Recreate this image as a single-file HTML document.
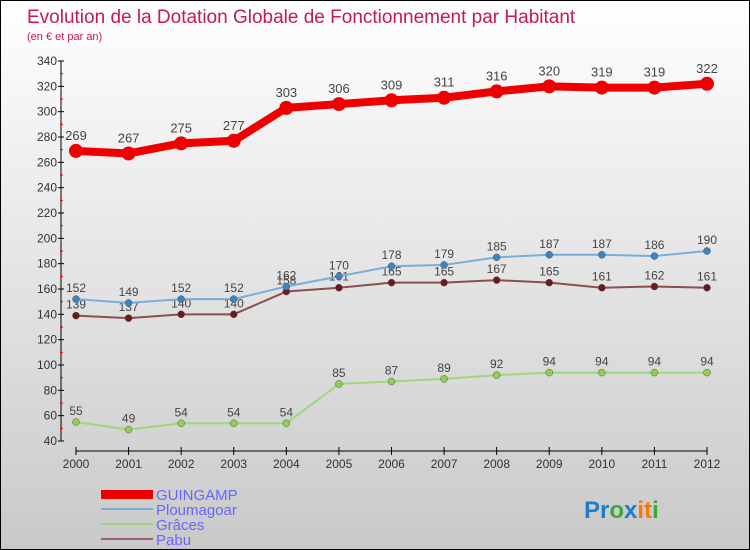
<!DOCTYPE html>
<html><head><meta charset="utf-8"><style>
body{margin:0}
#c{width:750px;height:550px;position:relative;background:linear-gradient(#ffffff,#c9c9c9);border:1px solid #000;box-sizing:border-box;overflow:hidden;font-family:"Liberation Sans",sans-serif}
</style></head><body>
<div id="c">
<svg id="s" width="750" height="550">
<text x="26" y="22" font-size="19" fill="#c8175a">Evolution de la Dotation Globale de Fonctionnement par Habitant</text>
<text x="26" y="39" font-size="11" fill="#c8175a">(en € et par an)</text>
<g id="ax"></g><g id="ser"></g>
<g>
<rect x="100" y="489" width="52" height="9" fill="#e00"/>
<text x="155" y="499" font-size="15" fill="#66f">GUINGAMP</text>
<line x1="100" y1="508" x2="152" y2="508" stroke="#7aaed8" stroke-width="2"/>
<text x="155" y="514" font-size="15" fill="#66f">Ploumagoar</text>
<line x1="100" y1="523" x2="152" y2="523" stroke="#9fd67a" stroke-width="2"/>
<text x="155" y="529" font-size="15" fill="#66f">Grâces</text>
<line x1="100" y1="538" x2="152" y2="538" stroke="#9a6464" stroke-width="2"/>
<text x="155" y="544" font-size="15" fill="#66f">Pabu</text>
</g>
<text x="583" y="517" font-size="24" font-weight="bold"><tspan fill="#1a7fd0">Pr</tspan><tspan fill="#3aa83a">o</tspan><tspan fill="#1a7fd0">x</tspan><tspan fill="#f07a10">it</tspan><tspan fill="#3aa83a">i</tspan></text>
</svg></div>
<script>
const years=[2000,2001,2002,2003,2004,2005,2006,2007,2008,2009,2010,2011,2012];
const guingamp=[269,267,275,277,303,306,309,311,316,320,319,319,322];
const ploumagoar=[152,149,152,152,162,170,178,179,185,187,187,186,190];
const graces=[55,49,54,54,54,85,87,89,92,94,94,94,94];
const pabu=[139,137,140,140,158,161,165,165,167,165,161,162,161];
const yTicks=[40,60,80,100,120,140,160,180,200,220,240,260,280,300,320,340];
const NS="http://www.w3.org/2000/svg";
const X=i=>75+i*(706-75)/12;
const Y=v=>440-(v-40)*380/300;
function mk(p,t,a){const e=document.createElementNS(NS,t);for(const k in a)e.setAttribute(k,a[k]);p.appendChild(e);return e;}
const ax=document.getElementById('ax'),ser=document.getElementById('ser');
let l=mk(ax,'line',{x1:60,y1:Y(340),x2:60,y2:Y(40),stroke:'#000'});

l=mk(ax,'line',{x1:75,y1:450,x2:706,y2:450,stroke:'#000'});

yTicks.forEach(v=>{
 const t=mk(ax,'line',{x1:57,x2:63,y1:Y(v),y2:Y(v),stroke:'#000'});
 
 if(v<340){const m=mk(ax,'line',{x1:59,x2:62,y1:Y(v+10),y2:Y(v+10),stroke:'#e00'});
 }
 const tx=mk(ax,'text',{x:56,y:Y(v)+4,'font-size':12,'text-anchor':'end',fill:'#333'});tx.textContent=v;
 
});
years.forEach((y,i)=>{
 const t=mk(ax,'line',{x1:X(i),x2:X(i),y1:446,y2:454,stroke:'#000'});
 
 const tx=mk(ax,'text',{x:X(i),y:467,'font-size':12,'text-anchor':'middle',fill:'#333'});tx.textContent=y;
 
});
function series(d,name,col,dot,w,r,fs){
 const g=mk(ser,'g',{});
 
 const p=mk(g,'polyline',{points:d.map((v,i)=>X(i)+','+Y(v)).join(' '),fill:'none',stroke:col,'stroke-width':w,'stroke-linejoin':'round'});
 
 d.forEach((v,i)=>{
  const c=mk(g,'circle',{cx:X(i),cy:Y(v),r:r,fill:dot,stroke:w>3?'none':'#555','stroke-width':0.5});
  
  const t=mk(g,'text',{x:X(i),y:Y(v)-(w>3?11:7),'font-size':fs,'text-anchor':'middle',fill:'#444'});t.textContent=v;
  
 });
}
series(graces,'graces','#9fd67a','#8fd14f',2,3.5,12);
series(pabu,'pabu','#8a4f4f','#6a1a1a',2,3.5,12);
series(ploumagoar,'ploumagoar','#7aaed8','#3b84c4',2,3.5,12);
series(guingamp,'guingamp','#e00','#e00',8,7,13);
</script></body></html>
